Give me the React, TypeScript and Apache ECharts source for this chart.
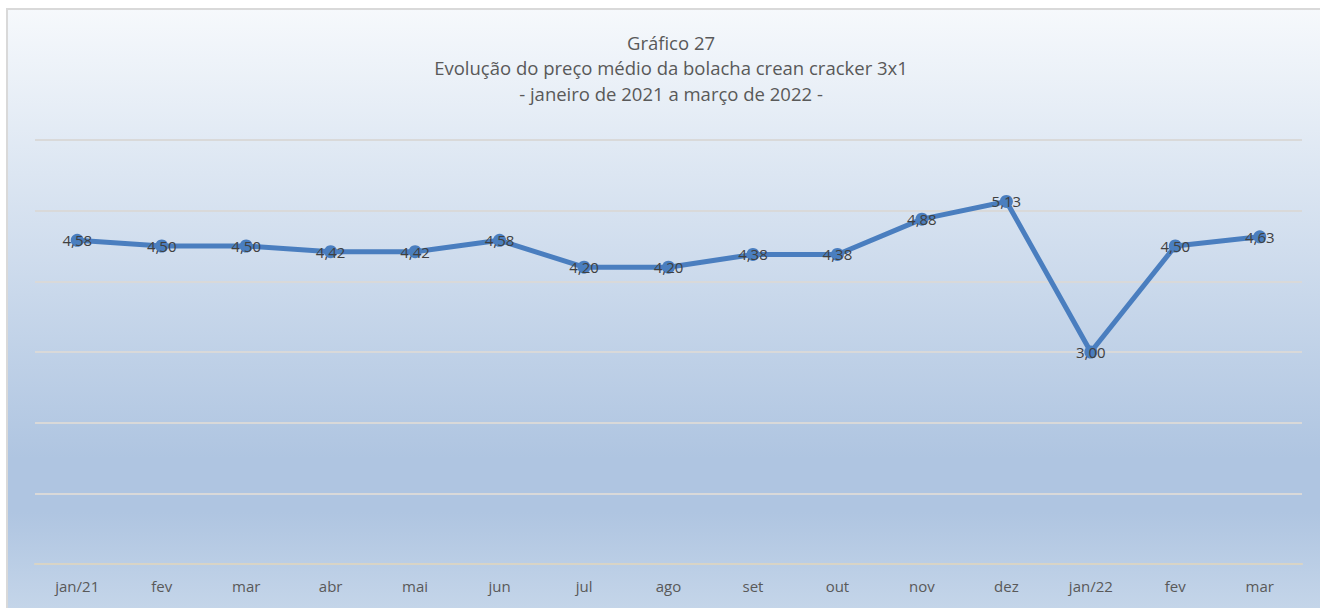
import React, { useEffect, useRef } from "react";
import * as echarts from "echarts";

const titleLines = [
  "Gráfico 27",
  "Evolução do preço médio da bolacha crean cracker 3x1",
  "- janeiro de 2021 a março de 2022 -",
];
const categories = ["jan/21", "fev", "mar", "abr", "mai", "jun", "jul", "ago", "set", "out", "nov", "dez", "jan/22", "fev", "mar"];
const prices = [4.58, 4.5, 4.5, 4.42, 4.42, 4.58, 4.2, 4.2, 4.38, 4.38, 4.88, 5.13, 3.0, 4.5, 4.63];
const yMin = 0;
const yMax = 6;
const yStep = 1;

const FONT = "'Open Sans', 'Noto Sans', sans-serif";

export default function App() {
  const ref = useRef<HTMLDivElement>(null);
  useEffect(() => {
    document.documentElement.style.overflow = "hidden";
    document.body.style.overflow = "hidden";
    if (!ref.current) return;
    const chart = echarts.init(ref.current, null, { renderer: "svg" });
    chart.setOption({
      animation: false,
      backgroundColor: "#ffffff",
      graphic: [
        {
          type: "rect",
          z: -10,
          silent: true,
          shape: { x: 7, y: 9, width: 1313, height: 599 },
          style: {
            fill: new echarts.graphic.LinearGradient(0, 0, 0, 1, [
              { offset: 0, color: "#f6f9fc" },
              { offset: 0.75, color: "#afc5e1" },
              { offset: 0.84, color: "#afc5e1" },
              { offset: 1, color: "#c4d5e9" },
            ]),
          },
        },
        {
          type: "polyline",
          z: -9,
          silent: true,
          shape: { points: [[7, 608], [7, 9], [1320, 9]] },
          style: { stroke: "#d9d9d9", lineWidth: 2, fill: null },
        },
        ...titleLines.map((t, i) => ({
          type: "text",
          x: 671,
          y: 42 + i * 25.5,
          style: {
            text: t,
            fill: "#595959",
            font: `18.5px ${FONT}`,
            textAlign: "center",
            textVerticalAlign: "middle",
          },
        })),
      ],
      grid: { left: 35, right: 18, top: 140, bottom: 44, containLabel: false },
      xAxis: {
        type: "category",
        data: categories,
        boundaryGap: true,
        axisTick: { show: false },
        axisLine: { show: true, lineStyle: { color: "#d8d4c6", width: 2 } },
        axisLabel: { color: "#595959", fontSize: 15, fontFamily: FONT, margin: 14, interval: 0 },
      },
      yAxis: {
        type: "value",
        min: yMin,
        max: yMax,
        interval: yStep,
        axisLabel: { show: false },
        axisLine: { show: false },
        axisTick: { show: false },
        splitLine: { show: true, lineStyle: { color: "#d9d9d9", width: 2 } },
      },
      series: [
        {
          type: "line",
          data: prices,
          symbol: "circle",
          symbolSize: 13,
          itemStyle: { color: "#4a7ebf" },
          lineStyle: { color: "#4a7ebf", width: 5 },
          label: {
            show: true,
            position: "inside",
            color: "#404040",
            fontSize: 15,
            fontFamily: FONT,
            formatter: (p: any) => Number(p.value).toFixed(2).replace(".", ","),
          },
        },
      ],
    });
    return () => chart.dispose();
  }, []);
  return (
    <div style={{ position: "fixed", left: 0, top: 0, width: 1320, height: 608, overflow: "hidden" }}>
      <div ref={ref} style={{ width: 1320, height: 608 }} />
    </div>
  );
}
